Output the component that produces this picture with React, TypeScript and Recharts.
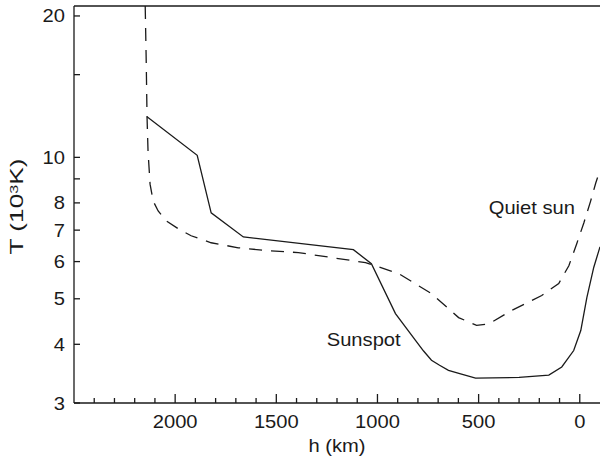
import { LineChart, Line, XAxis, YAxis, ReferenceLine, ReferenceDot, Label } from "recharts"

// sunspot model (solid)
const sunspotH = [2139, 1891, 1822, 1663, 1119, 1030, 911, 812, 772, 733, 693, 649, 589, 515, 300, 153, 89, 30, -5, -35, -69, -100]
const sunspotT = [12.2, 10.1, 7.62, 6.77, 6.36, 5.94, 4.65, 4.08, 3.87, 3.7, 3.61, 3.52, 3.46, 3.39, 3.4, 3.44, 3.58, 3.88, 4.28, 5.03, 5.83, 6.45]

// quiet sun model (dashed)
const quietH = [2148, 2143, 2139, 2134, 2124, 2109, 2084, 2045, 1985, 1921, 1822, 1688, 1540, 1391, 1059, 896, 733, 599, 510, 450, 337, 188, 104, 54, 15, -20, -54, -79, -100]
const quietT = [21, 16.0, 12.2, 10.3, 8.77, 8.08, 7.69, 7.33, 7.05, 6.81, 6.58, 6.42, 6.33, 6.27, 5.97, 5.66, 5.13, 4.56, 4.39, 4.42, 4.72, 5.08, 5.39, 5.88, 6.55, 7.25, 8.08, 8.82, 9.4]

const hTicks = [2400, 2300, 2200, 2100, 2000, 1900, 1800, 1700, 1600, 1500, 1400, 1300, 1200, 1100, 1000, 900, 800, 700, 600, 500, 400, 300, 200, 100, 0]
const tTicks = [3, 4, 5, 6, 7, 8, 9, 10, 15, 20]
const tLabelled = [3, 4, 5, 6, 7, 8, 10, 20]

const sunspot = sunspotH.map((h, i) => ({ h, T: sunspotT[i] }))
const quiet = quietH.map((h, i) => ({ h, T: quietT[i] }))

const font = "'Liberation Sans', Arial, Helvetica, sans-serif"
const ink = "#1a1a1a"

// the original lettering is a bit wider than Liberation Sans
const Txt = ({ x, y, anchor = "start", children }: any) => (
  <text
    transform={`translate(${x},${y}) scale(1.12,1)`}
    textAnchor={anchor}
    fontSize={18}
    fontFamily={font}
    fill={ink}
  >
    {children}
  </text>
)

const XTick = (props: any) => {
  const { x, y, payload } = props
  const major = payload.value % 500 === 0
  return (
    <g>
      <line x1={x} x2={x} y1={y} y2={y - (major ? 9 : 5)} stroke={ink} strokeWidth={1.3} />
      {major && (
        <Txt x={x} y={y + 25} anchor="middle">
          {payload.value}
        </Txt>
      )}
    </g>
  )
}

const YTick = (props: any) => {
  const { x, y, payload } = props
  return (
    <g>
      <line x1={x} x2={x + 6} y1={y} y2={y} stroke={ink} strokeWidth={1.3} />
      {tLabelled.includes(payload.value) && (
        <Txt x={x - 9} y={y + 6.5} anchor="end">
          {payload.value}
        </Txt>
      )}
    </g>
  )
}

const note = (text: string) => (props: any) => {
  const { viewBox } = props
  return (
    <Txt x={viewBox.x} y={viewBox.y}>
      {text}
    </Txt>
  )
}

export default function App() {
  return (
    <div>
      <style>{"body{margin:0}"}</style>
      <LineChart width={600} height={460} margin={{ top: 6, right: 0, bottom: 0, left: 0 }}>
        <XAxis
          dataKey="h"
          type="number"
          domain={[-100, 2500]}
          allowDataOverflow
          reversed
          ticks={hTicks}
          interval={0}
          tick={<XTick />}
          tickLine={false}
          tickSize={0}
          tickMargin={0}
          height={57}
          stroke={ink}
          strokeWidth={1.3}
        >
          <Label
            content={(p: any) => (
              <Txt x={p.viewBox.x + p.viewBox.width / 2} y={p.viewBox.y + 49} anchor="middle">
                h (km)
              </Txt>
            )}
          />
        </XAxis>
        <YAxis
          dataKey="T"
          type="number"
          scale="log"
          domain={[3, 21]}
          allowDataOverflow
          ticks={tTicks}
          interval={0}
          tick={<YTick />}
          tickLine={false}
          tickSize={0}
          tickMargin={0}
          width={74}
          stroke={ink}
          strokeWidth={1.3}
        >
          <Label
            content={(p: any) => {
              const cx = 23
              const cy = p.viewBox.y + p.viewBox.height / 2 + 2
              return (
                <text
                  x={cx - 48}
                  y={cy}
                  transform={`rotate(-90, ${cx}, ${cy})`}
                  textLength={96}
                  lengthAdjust="spacingAndGlyphs"
                  fontSize={18}
                  fontFamily={font}
                  fill={ink}
                >
                  T (10
                  <tspan dy={-5} fontSize={11}>3</tspan>
                  <tspan dy={5}>K)</tspan>
                </text>
              )
            }}
          />
        </YAxis>
        <ReferenceLine y={21} stroke={ink} strokeWidth={1.3} />
        <Line
          data={quiet}
          dataKey="T"
          type="linear"
          stroke={ink}
          strokeWidth={1.3}
          strokeDasharray="13 9"
          dot={false}
          isAnimationActive={false}
        />
        <Line
          data={sunspot}
          dataKey="T"
          type="linear"
          stroke={ink}
          strokeWidth={1.3}
          dot={false}
          isAnimationActive={false}
        />
        <ReferenceDot x={450} y={7.58} r={0} fill="none" stroke="none" label={note("Quiet sun")} />
        <ReferenceDot x={1251} y={3.96} r={0} fill="none" stroke="none" label={note("Sunspot")} />
      </LineChart>
    </div>
  )
}
